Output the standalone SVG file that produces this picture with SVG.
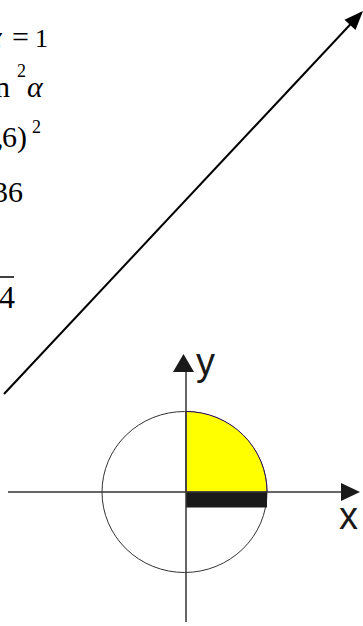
<svg xmlns="http://www.w3.org/2000/svg" width="363" height="626" viewBox="0 0 363 626">
<rect width="363" height="626" fill="#fff"/>
<g id="formulas" font-family="'Liberation Serif', 'DejaVu Serif', serif" font-size="30" fill="#000">
<text y="46.5"><tspan font-style="italic" x="-14">α</tspan><tspan x="12">=</tspan><tspan x="35" font-size="26">1</tspan></text>
<text y="97"><tspan x="-5">n</tspan><tspan font-size="18" x="17" y="77">2</tspan><tspan font-style="italic" x="27" y="97">α</tspan></text>
<text y="147"><tspan x="-4">,</tspan><tspan x="2">6)</tspan><tspan font-size="18" x="32" y="133">2</tspan></text>
<text y="202"><tspan x="-7">36</tspan></text>
<text y="308" x="-1" font-size="32">4</text>
<line x1="0" y1="277" x2="14" y2="277" stroke="#000" stroke-width="1.5"/>
</g>
<g id="connectors">
<line x1="4" y1="394" x2="361" y2="13" stroke="#000" stroke-width="2"/>
<path d="M363,11 L355.5,30 L344.5,19.7 z" fill="#000"/>
</g>
<g id="circle">
<ellipse cx="184.5" cy="492" rx="82.5" ry="80.5" fill="none" stroke="#333" stroke-width="1"/>
<path d="M186,492 L186,411.5 A81,80.5 0 0 1 267,492 z" fill="#ffff00" stroke="#2a0a5a" stroke-width="1"/>
<rect x="186" y="492" width="81" height="15.5" fill="#1a1a1a"/>
</g>
<g id="axes" font-family="'Liberation Sans', Arial, sans-serif" font-size="38" fill="#1a1a1a">
<line x1="8" y1="492" x2="342" y2="492" stroke="#333" stroke-width="1.5"/>
<path d="M341,483 L360,492 L341,501 z"/>
<line x1="186" y1="371" x2="186" y2="622" stroke="#333" stroke-width="1.5"/>
<path d="M173,372 L183.5,354 L194,372 z"/>
<text x="196" y="375">y</text>
<text x="339" y="529">x</text>
</g>
</svg>
